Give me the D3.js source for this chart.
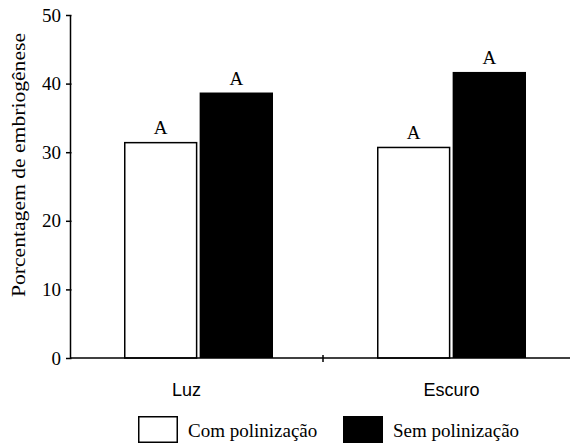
<!DOCTYPE html>
<html>
<head>
<meta charset="utf-8">
<script src="https://cdn.jsdelivr.net/npm/d3@7"></script>
<style>
  html, body { margin: 0; padding: 0; background: #fff; }
  svg { display: block; }
</style>
</head>
<body>
<svg id="chart" width="570" height="447"></svg>
<script>
// ---- data ----
const categories = ["Luz", "Escuro"];
const seriesNames = ["Com polinização", "Sem polinização"];
const comPolinizacao = [31.5, 30.8];
const semPolinizacao = [38.7, 41.7];
const significance = [["A", "A"], ["A", "A"]];
const yTicks = [0, 10, 20, 30, 40, 50];
const yTitle = "Porcentagem de embriogênese";

const seriesValues = [comPolinizacao, semPolinizacao];
const fills = ["#ffffff", "#000000"];

const svg = d3.select("#chart");
const serif = "'Times New Roman', 'Liberation Serif', serif";
const sans = "Arial, 'Liberation Sans', sans-serif";

const x0 = 70, x1 = 576, yBottom = 358, yTop = 15;

const x = d3.scaleBand().domain(categories).range([x0, x1]).paddingInner(0).paddingOuter(0);
const xSub = d3.scaleBand().domain(seriesNames).range([54, 203]).paddingInner(0.03).paddingOuter(0);
const y = d3.scaleLinear().domain([0, 50]).range([yBottom, yTop]);

// bars
categories.forEach((cat, ci) => {
  seriesNames.forEach((s, si) => {
    const v = seriesValues[si][ci];
    const bx = x(cat) + xSub(s);
    const bw = xSub.bandwidth();
    if (si === 0) {
      svg.append("rect")
        .attr("x", bx + 0.75).attr("y", y(v) + 0.75)
        .attr("width", bw - 1.5).attr("height", y(0) - y(v) - 0.75)
        .attr("fill", fills[si]).attr("stroke", "#000").attr("stroke-width", 1.5);
    } else {
      svg.append("rect")
        .attr("x", bx).attr("y", y(v))
        .attr("width", bw).attr("height", y(0) - y(v))
        .attr("fill", fills[si]);
    }
    svg.append("text")
      .attr("x", bx + bw / 2).attr("y", y(v) - 8)
      .attr("text-anchor", "middle")
      .attr("font-family", serif).attr("font-size", 19)
      .text(significance[ci][si]);
  });
});

// y axis
const yAxis = svg.append("g").attr("transform", `translate(${x0},0)`)
  .call(d3.axisLeft(y).tickValues(yTicks).tickSize(4).tickSizeOuter(0).tickPadding(5));
yAxis.attr("font-family", serif).attr("font-size", 19);
yAxis.select(".domain").attr("stroke", "#000").attr("stroke-width", 1.5);
yAxis.selectAll(".tick line").attr("x1", 1.5).attr("stroke-width", 1.5);
yAxis.selectAll(".tick text").attr("fill", "#000");

// x axis
const xAxis = svg.append("g").attr("transform", `translate(0,${yBottom})`);
xAxis.append("line").attr("x1", x0).attr("x2", 570).attr("y1", 0).attr("y2", 0)
  .attr("stroke", "#000").attr("stroke-width", 1.5);
xAxis.selectAll("line.tk").data(categories.slice(1)).join("line").attr("class", "tk")
  .attr("x1", d => x(d)).attr("x2", d => x(d)).attr("y1", -3).attr("y2", 4)
  .attr("stroke", "#000").attr("stroke-width", 1.5);

// category labels
const labelOffsets = [-10, 2];
svg.selectAll("text.cat").data(categories).join("text").attr("class", "cat")
  .attr("x", (d, i) => x(d) + x.bandwidth() / 2 + labelOffsets[i])
  .attr("y", 396)
  .attr("text-anchor", "middle")
  .attr("font-family", sans).attr("font-size", 18)
  .text(d => d);

// y title
svg.append("text")
  .attr("transform", "translate(25,165) rotate(-90)")
  .attr("text-anchor", "middle")
  .attr("font-family", serif).attr("font-size", 18)
  .attr("textLength", 264).attr("lengthAdjust", "spacingAndGlyphs")
  .text(yTitle);

// legend
const legendX = [138, 343];
seriesNames.forEach((s, i) => {
  svg.append("rect")
    .attr("x", legendX[i] + 0.75).attr("y", 416.75)
    .attr("width", 38.5).attr("height", 25.5)
    .attr("fill", fills[i]).attr("stroke", "#000").attr("stroke-width", 1.5);
  svg.append("text")
    .attr("x", legendX[i] + 50).attr("y", 437)
    .attr("font-family", serif).attr("font-size", 19)
    .text(s);
});
</script>
</body>
</html>
